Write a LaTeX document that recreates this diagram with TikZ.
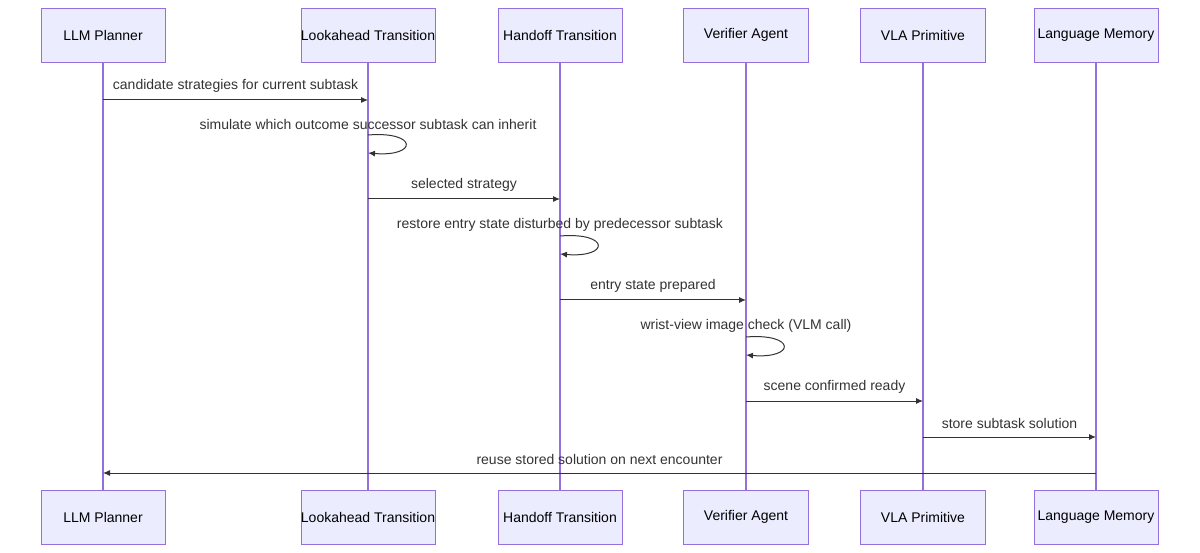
\documentclass[tikz,border=0pt]{standalone}
\usepackage{fontspec}
\setmainfont{Liberation Sans}
\usetikzlibrary{arrows.meta,calc}
\definecolor{actfill}{HTML}{ECECFF}
\definecolor{actline}{HTML}{9370DB}
\definecolor{msgline}{HTML}{333333}
\begin{document}
\begin{tikzpicture}[x=1pt,y=-1pt,
    actor/.style={draw=actline,fill=actfill,minimum height=54pt,inner sep=0pt,font=\fontsize{14}{16}\selectfont},
    life/.style={draw=actline,line width=1.3pt},
    msg/.style={draw=msgline,line width=1pt,-{Latex[length=7pt,width=6pt]}},
    lbl/.style={font=\fontsize{14}{16}\selectfont,text=msgline}]
  \useasboundingbox (0,0) rectangle (1200,553);
  \foreach \x/\w/\i/\t in {103/124/llm/LLM Planner, 368/133/look/Lookahead Transition,
                           560/124/hand/Handoff Transition, 746/125/ver/Verifier Agent,
                           923/125/vla/VLA Primitive, 1096/124/mem/Language Memory}{
    \draw[life] (\x,62) -- (\x,490);
    \node[actor,minimum width=\w pt](T\i) at (\x,35){\t};
    \node[actor,minimum width=\w pt](B\i) at (\x,517){\t};
    \coordinate (L\i) at (\x,0);
  }
  % messages between lifelines
  \foreach \a/\b/\y/\t in {llm/look/100/candidate strategies for current subtask,
                           look/hand/199/selected strategy,
                           hand/ver/300/entry state prepared,
                           ver/vla/401/scene confirmed ready,
                           vla/mem/437/store subtask solution,
                           mem/llm/473/reuse stored solution on next encounter}{
    \coordinate (S) at ([yshift=-\y pt]L\a);
    \coordinate (E) at ([yshift=-\y pt]L\b);
    \draw[msg] (S) -- (E);
    \node[lbl] at ($(S)!0.5!(E)+(0,-14)$) {\t};
  }
  % self messages
  \foreach \a/\y/\t in {look/135/simulate which outcome successor subtask can inherit,
                        hand/236/restore entry state disturbed by predecessor subtask,
                        ver/337/wrist-view image check (VLM call)}{
    \coordinate (S) at ([yshift=-\y pt]L\a);
    \draw[msg] (S) .. controls ($(S)+(50,-4)$) and ($(S)+(50,22)$) .. ($(S)+(0,18)$);
    \node[lbl] at ($(S)+(0,-11)$) {\t};
  }
\end{tikzpicture}
\end{document}
